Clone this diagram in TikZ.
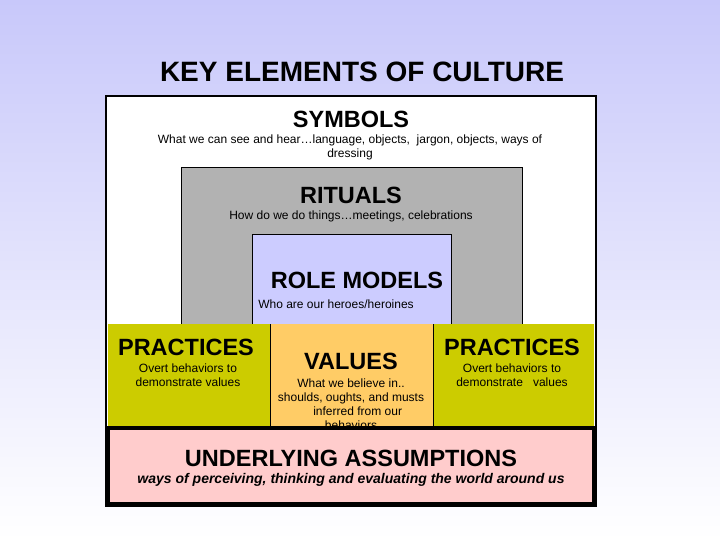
\documentclass[tikz,border=0pt]{standalone}
\usepackage{fontspec}
\setmainfont{Liberation Sans}
\definecolor{bgtop}{RGB}{200,200,250}
\definecolor{ritgrey}{RGB}{178,178,178}
\definecolor{rmlav}{RGB}{204,204,255}
\definecolor{olive}{RGB}{204,204,0}
\definecolor{valorange}{RGB}{255,204,102}
\definecolor{uapink}{RGB}{255,204,204}
\begin{document}
\begin{tikzpicture}[x=1pt,y=-1pt,
  big/.style={font=\bfseries\fontsize{23.5}{26}\selectfont},
  small/.style={font=\fontsize{12}{14}\selectfont,align=center}]
\useasboundingbox (0,0) rectangle (720,540);
\shade[top color=bgtop,bottom color=white] (0,0) rectangle (720,540);
\node[font=\bfseries\fontsize{28}{32}\selectfont] (title) at (362,72) {KEY ELEMENTS OF CULTURE};
% outer
\draw[fill=white,line width=2.5pt] (106,96) rectangle (596,506);
\node[big] (sym) at (351,119) {SYMBOLS};
\node[small] (symt) at (350,147) {What we can see and hear\dots language, objects,\ \ jargon, objects, ways of\\dressing};
% rituals
\draw[fill=ritgrey,line width=1pt] (181,168) rectangle (522,325);
\node[big] (rit) at (351,195) {RITUALS};
\node[small] (ritt) at (351,216) {How do we do things\dots meetings, celebrations};
% role models
\draw[fill=rmlav,line width=0.5pt] (252,234) rectangle (451,325);
\node[big] (rm) at (357,280) {ROLE MODELS};
\node[small] (rmt) at (336,304) {Who are our heroes/heroines};
% practices/values
\fill[olive] (108,324) rectangle (594,428);
\fill[valorange] (270,324) rectangle (433,428);
\draw[line width=0.5pt] (270,324) -- (270,428) (433,324) -- (433,428);
\node[big] (p1) at (186,347) {PRACTICES};
\node[small] (p1t) at (188,375) {Overt behaviors to\\demonstrate values};
\node[big] (val) at (351,361) {VALUES};
\node[small,anchor=north] (valt) at (351,375) {What we believe in..\\shoulds, oughts, and musts\\\ \ \ \ inferred from our\\behaviors};
\node[big] (p2) at (512,347) {PRACTICES};
\node[small] (p2t) at (512,375) {Overt behaviors to\\demonstrate\ \ \ values};
% underlying
\draw[fill=uapink,line width=3.5pt] (108,428) rectangle (594,504);
\node[big] (ua) at (351,458) {UNDERLYING ASSUMPTIONS};
\node[font=\bfseries\itshape\fontsize{14}{16}\selectfont] (uat) at (351,480) {ways of perceiving, thinking and evaluating the world around us};
\end{tikzpicture}
\end{document}
